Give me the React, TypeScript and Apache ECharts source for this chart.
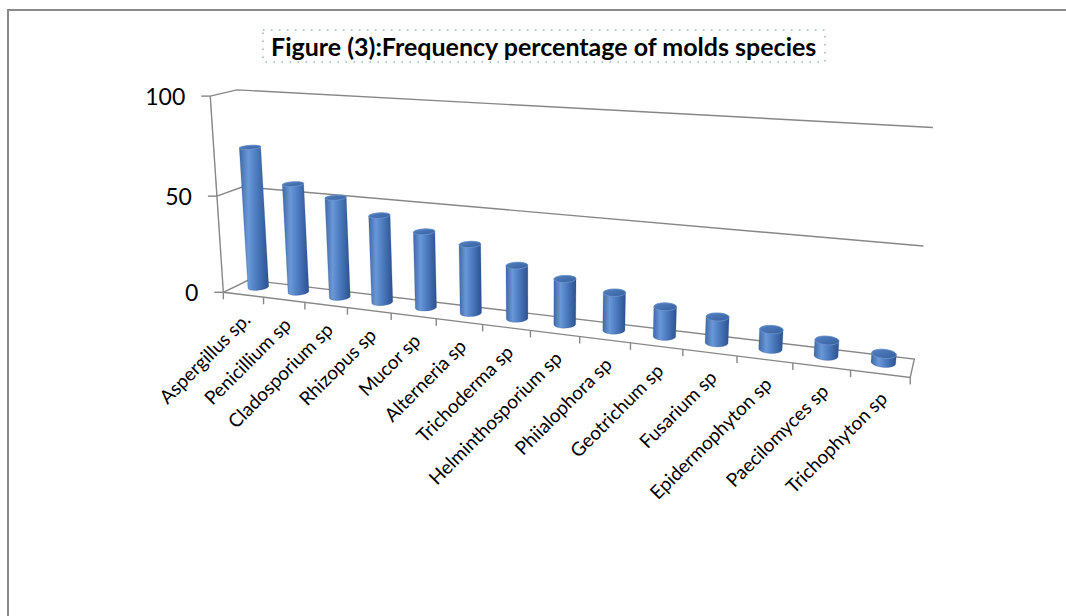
import React, { useEffect, useRef } from "react";
import * as echarts from "echarts";

// ---- data ----
const categories = [
  "Aspergillus sp.",
  "Penicillium sp",
  "Cladosporium sp",
  "Rhizopus sp",
  "Mucor sp",
  "Alterneria sp",
  "Trichoderma sp",
  "Helminthosporium sp",
  "Phiialophora sp",
  "Geotrichum sp",
  "Fusarium sp",
  "Epidermophyton sp",
  "Paecilomyces sp",
  "Trichophyton sp",
];
const frequency = [73, 56, 51, 44, 38, 34, 26, 22, 18, 14, 12, 9, 7, 4];
const valueTicks = [0, 50, 100];
const titleText = "Figure (3):Frequency percentage of molds species";

// ---- 3D box layout: (u along categories, v along values, d depth 0=front 1=back) -> screen ----
const BOX_ANCHORS: [number[], number[]][] = [
  [[0, 0, 0], [226, 292]],
  [[0, 0.5, 0], [217, 195]],
  [[0, 1, 0], [208, 96]],
  [[0, 0, 1], [247, 281]],
  [[0, 0.5, 1], [241, 187]],
  [[0, 1, 1], [240, 90]],
  [[1, 0, 0], [910, 379]],
  [[0.5, 0, 0], [530, 330.7]],
  [[1, 0, 1], [915, 357]],
  [[1, 0.5, 1], [923, 246]],
  [[1, 1, 1], [933, 128]],
];
const DEPTH_CENTER = 0.6;
const DEPTH_RADIUS = 0.25;
const BAR_FRACTION = 0.42;
const FONT = "Lato, 'Noto Sans', sans-serif";

type Proj = (u: number, v: number, d: number) => number[];

// Fit a 3x4 projective camera to the anchors (least squares on normalised coordinates)
function buildProjection(pairs: [number[], number[]][]): Proj {
  const cx = 560, cy = 240, s = 400;
  const rows: number[][] = [];
  const rhs: number[] = [];
  for (const [[X, Y, Z], [px, py]] of pairs) {
    const x = (px - cx) / s;
    const y = (py - cy) / s;
    rows.push([X, Y, Z, 1, 0, 0, 0, 0, -x * X, -x * Y, -x * Z]);
    rhs.push(x);
    rows.push([0, 0, 0, 0, X, Y, Z, 1, -y * X, -y * Y, -y * Z]);
    rhs.push(y);
  }
  const n = 11;
  const M = Array.from({ length: n }, () => new Array(n + 1).fill(0));
  for (let r = 0; r < rows.length; r++) {
    for (let i = 0; i < n; i++) {
      for (let j = 0; j < n; j++) M[i][j] += rows[r][i] * rows[r][j];
      M[i][n] += rows[r][i] * rhs[r];
    }
  }
  for (let c = 0; c < n; c++) {
    let p = c;
    for (let r = c + 1; r < n; r++) if (Math.abs(M[r][c]) > Math.abs(M[p][c])) p = r;
    const tmp = M[c]; M[c] = M[p]; M[p] = tmp;
    for (let r = 0; r < n; r++) {
      if (r === c) continue;
      const f = M[r][c] / M[c][c];
      for (let k = c; k <= n; k++) M[r][k] -= f * M[c][k];
    }
  }
  const p = M.map((row, i) => row[n] / row[i]);
  return (u, v, d) => {
    const w = p[8] * u + p[9] * v + p[10] * d + 1;
    return [
      ((p[0] * u + p[1] * v + p[2] * d + p[3]) / w) * s + cx,
      ((p[4] * u + p[5] * v + p[6] * d + p[7]) / w) * s + cy,
    ];
  };
}

function convexHull(pts: number[][]): number[][] {
  const a = pts.slice().sort((p, q) => (p[0] === q[0] ? p[1] - q[1] : p[0] - q[0]));
  const cross = (o: number[], b: number[], c: number[]) =>
    (b[0] - o[0]) * (c[1] - o[1]) - (b[1] - o[1]) * (c[0] - o[0]);
  const lower: number[][] = [];
  for (const pt of a) {
    while (lower.length >= 2 && cross(lower[lower.length - 2], lower[lower.length - 1], pt) <= 0) lower.pop();
    lower.push(pt);
  }
  const upper: number[][] = [];
  for (let i = a.length - 1; i >= 0; i--) {
    const pt = a[i];
    while (upper.length >= 2 && cross(upper[upper.length - 2], upper[upper.length - 1], pt) <= 0) upper.pop();
    upper.push(pt);
  }
  upper.pop();
  lower.pop();
  return lower.concat(upper);
}

const proj = buildProjection(BOX_ANCHORS);
const GRID_COLOR = "#878787";

export default function App() {
  const ref = useRef<HTMLDivElement>(null);

  useEffect(() => {
    if (!ref.current) return;
    const chart = echarts.init(ref.current, undefined, { renderer: "svg" });

    const toUV = (params: any, api: any, cat: number, val: number) => {
      const cs = params.coordSys;
      const pt = api.coord([cat, val]);
      return [(pt[0] - cs.x) / cs.width, (cs.y + cs.height - pt[1]) / cs.height];
    };

    // walls, gridlines and value axis
    const renderFrame = (params: any, api: any) => {
      const val = api.value(1);
      const [, v] = toUV(params, api, 0, val);
      const children: any[] = [];
      const line = (pts: number[][], close = false) => ({
        type: close ? "polygon" : "polyline",
        shape: { points: pts },
        style: { stroke: GRID_COLOR, lineWidth: 1.4, fill: close ? "none" : undefined },
        silent: true,
      });
      if (val === 0) {
        children.push(line([proj(0, 0, 0), proj(0, 0, 1), proj(1, 0, 1), proj(1, 0, 0)], true));
        children.push(line([proj(0, 0, 0), proj(0, 1, 0)]));
      } else {
        children.push(line([proj(0, v, 0), proj(0, v, 1), proj(1, v, 1)]));
      }
      const p = proj(0, v, 0);
      children.push(line([[p[0] - 9, p[1]], p]));
      children.push({
        type: "text",
        x: p[0] - 25,
        y: p[1],
        style: {
          text: String(val),
          font: `23px ${FONT}`,
          fill: "#000",
          align: "right",
          verticalAlign: "middle",
        },
        silent: true,
      });
      return { type: "group", children };
    };

    // cylinders, category ticks and category labels
    const renderCylinder = (params: any, api: any) => {
      const idx = api.value(0);
      const val = api.value(1);
      const cs = params.coordSys;
      const [u, vTop] = toUV(params, api, idx, val);
      const band = api.size([1, 0])[0] / cs.width;
      const ru = band * BAR_FRACTION * 0.5;
      const N = 48;
      const top: number[][] = [];
      const bottom: number[][] = [];
      for (let k = 0; k < N; k++) {
        const t = (k / N) * Math.PI * 2;
        const uu = u + ru * Math.cos(t);
        const dd = DEPTH_CENTER + DEPTH_RADIUS * Math.sin(t);
        top.push(proj(uu, vTop, dd));
        bottom.push(proj(uu, 0, dd));
      }
      const hull = convexHull(top.concat(bottom));
      const children: any[] = [];

      // category ticks
      const tickAt = (uu: number) => {
        const a = proj(uu, 0, 0);
        return {
          type: "line",
          shape: { x1: a[0], y1: a[1], x2: a[0], y2: a[1] + 7 },
          style: { stroke: GRID_COLOR, lineWidth: 1.4 },
          silent: true,
        };
      };
      children.push(tickAt(u - band / 2));
      if (idx === categories.length - 1) children.push(tickAt(u + band / 2));

      children.push({
        type: "polygon",
        shape: { points: hull },
        style: {
          fill: new echarts.graphic.LinearGradient(0, 0, 1, 0, [
            { offset: 0, color: "#3e69a8" },
            { offset: 0.3, color: "#6a97d6" },
            { offset: 0.55, color: "#4f7fc3" },
            { offset: 1, color: "#2c5190" },
          ]),
          stroke: "rgba(40,70,120,0.35)",
          lineWidth: 0.6,
        },
      });
      children.push({
        type: "polygon",
        shape: { points: top },
        style: {
          fill: new echarts.graphic.LinearGradient(0, 0, 1, 1, [
            { offset: 0, color: "#5581c0" },
            { offset: 1, color: "#36609f" },
          ]),
          stroke: "rgba(120,160,215,0.8)",
          lineWidth: 0.8,
        },
      });

      const a = proj(u, 0, 0);
      children.push({
        type: "text",
        x: a[0] + 3,
        y: a[1] + 21,
        rotation: Math.PI / 4,
        style: {
          text: categories[idx],
          font: `19px ${FONT}`,
          fill: "#000",
          align: "right",
          verticalAlign: "middle",
        },
        silent: true,
      });
      return { type: "group", children };
    };

    chart.setOption({
      animation: false,
      backgroundColor: "#ffffff",
      title: {
        text: titleText,
        left: 263,
        top: 30,
        padding: [3, 8, 4, 8],
        borderColor: "#9fb3c9",
        borderWidth: 1.5,
        borderType: [1.5, 6.5],
        textStyle: { fontFamily: FONT, fontWeight: "bold", fontSize: 25, color: "#000" },
      },
      graphic: [
        {
          type: "rect",
          shape: { x: 8, y: 10, width: 1200, height: 800 },
          style: { fill: "none", stroke: "#8a8a8a", lineWidth: 2 },
          silent: true,
          z: -10,
        },
      ],
      grid: { left: 100, right: 100, top: 100, bottom: 100, show: false },
      xAxis: { type: "category", data: categories, show: false, boundaryGap: true },
      yAxis: { type: "value", min: 0, max: 100, interval: 50, show: false },
      series: [
        {
          type: "custom",
          renderItem: renderFrame,
          data: valueTicks.map((v) => [0, v]),
          z: 1,
        },
        {
          type: "custom",
          renderItem: renderCylinder,
          data: frequency.map((f, i) => [i, f]),
          z: 2,
        },
      ],
    });

    return () => chart.dispose();
  }, []);

  return (
    <div
      ref={ref}
      style={{ position: "fixed", left: 0, top: 0, width: 1066, height: 616, background: "#fff" }}
    />
  );
}
